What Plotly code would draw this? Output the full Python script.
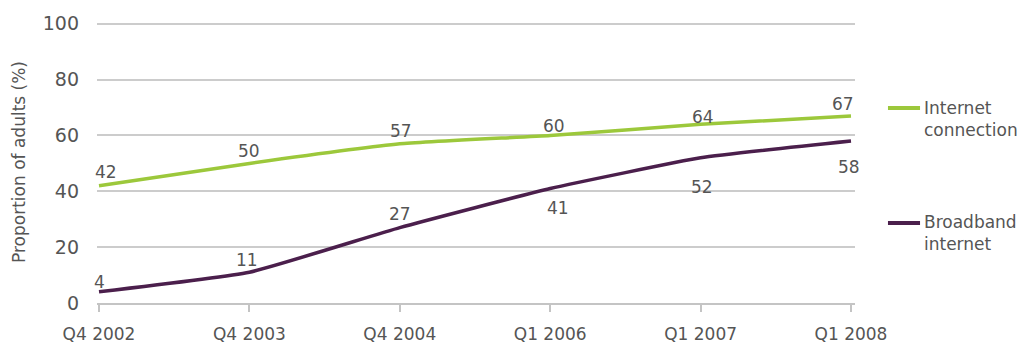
import plotly.graph_objects as go

periods = ["Q4 2002", "Q4 2003", "Q4 2004", "Q1 2006", "Q1 2007", "Q1 2008"]
internet_connection = [42, 50, 57, 60, 64, 67]
broadband_internet = [4, 11, 27, 41, 52, 58]
y_ticks = [0, 20, 40, 60, 80, 100]

# label offsets (style): (xshift, yshift) in px
internet_label_shift = [(7, 14), (0, 12), (1, 13), (4, 9), (2, 7), (-8, 12)]
broadband_label_shift = [(0, 10), (-2, 12), (0, 14), (8, -19), (1, -29), (-2, -26)]

GREEN = "#9cc83b"
PURPLE = "#4b1f4c"
TEXT = "#555555"
FONT = "DejaVu Sans"

fig = go.Figure()
fig.add_trace(go.Scatter(x=periods, y=internet_connection, mode="lines",
                         line=dict(color=GREEN, width=3.5, shape="spline", smoothing=0.4),
                         hoverinfo="skip", showlegend=False))
fig.add_trace(go.Scatter(x=periods, y=broadband_internet, mode="lines",
                         line=dict(color=PURPLE, width=3.5, shape="spline", smoothing=0.4),
                         hoverinfo="skip", showlegend=False))

for series, shifts in ((internet_connection, internet_label_shift),
                       (broadband_internet, broadband_label_shift)):
    for p, v, (dx, dy) in zip(periods, series, shifts):
        fig.add_annotation(x=p, y=v, text=str(v), showarrow=False,
                           xshift=dx, yshift=dy,
                           font=dict(family=FONT, size=17, color=TEXT))

# legend drawn manually: (label, colour, line y, text top y) in paper coords
legend_items = [("Internet<br>connection", GREEN, 0.6915, 0.735),
                ("Broadband<br>internet", PURPLE, 0.2837, 0.330)]
for label, color, yl, yt in legend_items:
    fig.add_shape(type="line", xref="paper", yref="paper",
                  x0=1.0435, x1=1.0858, y0=yl, y1=yl,
                  line=dict(color=color, width=4))
    fig.add_annotation(xref="paper", yref="paper", x=1.089, y=yt,
                       xanchor="left", yanchor="top", align="left",
                       text=label, showarrow=False,
                       font=dict(family=FONT, size=17, color=TEXT))

fig.update_layout(
    width=1023, height=343,
    margin=dict(l=97, r=168, t=21, b=40),
    paper_bgcolor="white", plot_bgcolor="white",
    font=dict(family=FONT, size=17, color=TEXT),
    xaxis=dict(type="category", range=[-0.0133, 5.0266], automargin=False,
               showgrid=False, showline=True, linecolor="#c4c4c4", linewidth=2,
               ticks="outside", ticklen=7, tickcolor="#c4c4c4", tickwidth=1.5,
               ticklabelstandoff=8,
               tickfont=dict(size=17, color=TEXT), zeroline=False),
    yaxis=dict(range=[0, 101], tickvals=y_ticks, showgrid=True, automargin=False,
               gridcolor="#cccccc", gridwidth=2, zeroline=False, showline=False,
               ticks="", ticklabelstandoff=17,
               tickfont=dict(size=19, color=TEXT),
               title=dict(text="Proportion of adults (%)", standoff=12,
                          font=dict(size=17, color=TEXT))),
)

fig.write_html("out.html")
